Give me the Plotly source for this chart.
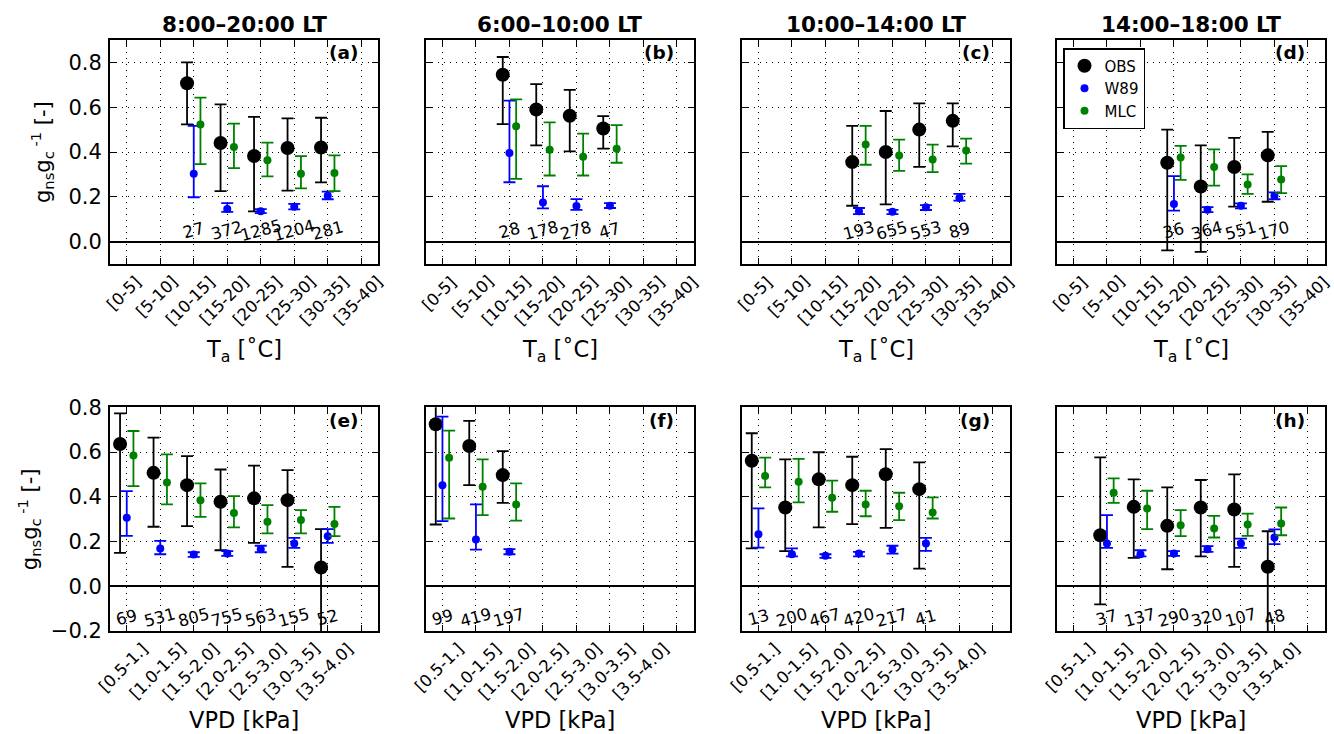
import plotly.graph_objects as go

# ---------------- data ----------------
TA_BINS = ["[0-5]", "[5-10]", "[10-15]", "[15-20]", "[20-25]", "[25-30]", "[30-35]", "[35-40]"]
VPD_BINS = ["[0.5-1.]", "[1.0-1.5]", "[1.5-2.0]", "[2.0-2.5]", "[2.5-3.0]", "[3.0-3.5]", "[3.5-4.0]"]
TITLES = ["8:00\u201320:00 LT", "6:00\u201310:00 LT", "10:00\u201314:00 LT", "14:00\u201318:00 LT"]
SERIES = ["OBS", "W89", "MLC"]

# each entry: (value, lower, upper)
A_START = 2
A_OBS = [(0.707, 0.523, 0.800), (0.440, 0.225, 0.613), (0.382, 0.135, 0.557), (0.418, 0.228, 0.550), (0.420, 0.264, 0.553)]
A_W89 = [(0.303, 0.198, 0.517), (0.145, 0.133, 0.172), (0.135, 0.127, 0.145), (0.156, 0.144, 0.168), (0.205, 0.189, 0.223)]
A_MLC = [(0.523, 0.346, 0.643), (0.422, 0.328, 0.527), (0.363, 0.291, 0.442), (0.303, 0.238, 0.382), (0.306, 0.225, 0.385)]
A_N = [27, 372, 1285, 1204, 281]

B_START = 2
B_OBS = [(0.745, 0.524, 0.824), (0.590, 0.430, 0.703), (0.562, 0.403, 0.677), (0.505, 0.415, 0.560)]
B_W89 = [(0.395, 0.265, 0.629), (0.175, 0.148, 0.247), (0.159, 0.142, 0.190), (0.160, 0.150, 0.172)]
B_MLC = [(0.515, 0.280, 0.635), (0.410, 0.295, 0.532), (0.379, 0.295, 0.482), (0.415, 0.352, 0.520)]
B_N = [28, 178, 278, 47]

C_START = 3
C_OBS = [(0.355, 0.160, 0.517), (0.400, 0.166, 0.583), (0.500, 0.334, 0.617), (0.539, 0.425, 0.617)]
C_W89 = [(0.135, 0.123, 0.150), (0.133, 0.123, 0.142), (0.153, 0.141, 0.163), (0.195, 0.183, 0.213)]
C_MLC = [(0.433, 0.343, 0.517), (0.384, 0.316, 0.455), (0.366, 0.310, 0.433), (0.407, 0.348, 0.460)]
C_N = [193, 655, 553, 89]

D_START = 3
D_OBS = [(0.352, -0.039, 0.500), (0.246, -0.046, 0.430), (0.333, 0.156, 0.463), (0.385, 0.178, 0.490)]
D_W89 = [(0.168, 0.138, 0.292), (0.142, 0.132, 0.154), (0.160, 0.148, 0.171), (0.205, 0.189, 0.220)]
D_MLC = [(0.375, 0.276, 0.427), (0.333, 0.250, 0.412), (0.255, 0.213, 0.300), (0.277, 0.216, 0.337)]
D_N = [36, 364, 551, 170]

E_START = 0
E_OBS = [(0.636, 0.149, 0.773), (0.507, 0.266, 0.664), (0.452, 0.269, 0.582), (0.378, 0.161, 0.522),
         (0.393, 0.194, 0.539), (0.385, 0.087, 0.519), (0.084, -0.250, 0.255)]
E_W89 = [(0.306, 0.225, 0.425), (0.169, 0.143, 0.203), (0.142, 0.131, 0.152), (0.146, 0.136, 0.157),
         (0.166, 0.152, 0.181), (0.191, 0.172, 0.216), (0.224, 0.194, 0.255)]
E_MLC = [(0.584, 0.448, 0.694), (0.464, 0.366, 0.590), (0.385, 0.310, 0.460), (0.328, 0.263, 0.403),
         (0.288, 0.236, 0.363), (0.296, 0.236, 0.340), (0.278, 0.224, 0.355)]
E_N = [69, 531, 805, 755, 563, 155, 52]

F_START = 0
F_OBS = [(0.724, 0.276, 0.840), (0.627, 0.452, 0.739), (0.497, 0.373, 0.604)]
F_W89 = [(0.452, 0.291, 0.758), (0.209, 0.164, 0.366), (0.154, 0.143, 0.166)]
F_MLC = [(0.575, 0.303, 0.696), (0.445, 0.318, 0.567), (0.366, 0.293, 0.460)]
F_N = [99, 419, 197]

G_START = 0
G_OBS = [(0.561, 0.169, 0.684), (0.352, 0.157, 0.567), (0.478, 0.263, 0.599), (0.452, 0.278, 0.579),
         (0.501, 0.261, 0.613), (0.434, 0.079, 0.554)]
G_W89 = [(0.233, 0.173, 0.348), (0.143, 0.134, 0.169), (0.136, 0.127, 0.143), (0.146, 0.134, 0.154),
         (0.164, 0.146, 0.181), (0.191, 0.158, 0.216)]
G_MLC = [(0.493, 0.442, 0.575), (0.467, 0.375, 0.569), (0.396, 0.333, 0.472), (0.366, 0.313, 0.427),
         (0.358, 0.296, 0.418), (0.330, 0.303, 0.397)]
G_N = [13, 200, 467, 420, 217, 41]

H_START = 1
H_OBS = [(0.228, -0.081, 0.576), (0.355, 0.127, 0.478), (0.270, 0.076, 0.442), (0.352, 0.134, 0.475),
         (0.343, 0.087, 0.500), (0.087, -0.250, 0.246)]
H_W89 = [(0.191, 0.172, 0.318), (0.143, 0.134, 0.161), (0.146, 0.136, 0.157), (0.166, 0.154, 0.179),
         (0.191, 0.172, 0.213), (0.218, 0.188, 0.254)]
H_MLC = [(0.418, 0.373, 0.482), (0.348, 0.255, 0.427), (0.273, 0.224, 0.340), (0.258, 0.218, 0.315),
         (0.276, 0.225, 0.325), (0.281, 0.228, 0.352)]
H_N = [37, 137, 290, 320, 107, 48]

PANELS = [
    ("a", A_START, A_OBS, A_W89, A_MLC, A_N),
    ("b", B_START, B_OBS, B_W89, B_MLC, B_N),
    ("c", C_START, C_OBS, C_W89, C_MLC, C_N),
    ("d", D_START, D_OBS, D_W89, D_MLC, D_N),
    ("e", E_START, E_OBS, E_W89, E_MLC, E_N),
    ("f", F_START, F_OBS, F_W89, F_MLC, F_N),
    ("g", G_START, G_OBS, G_W89, G_MLC, G_N),
    ("h", H_START, H_OBS, H_W89, H_MLC, H_N),
]

# ---------------- styling / layout ----------------
W, H = 1334, 734
COL_LEFT = [110, 425.7, 741.7, 1056.7]
PANEL_W = 268
ROW_TOP = [40, 407.3]
PANEL_H = [224, 223.7]
FONT = "DejaVu Sans"
COLORS = {"OBS": "black", "W89": "#0000ff", "MLC": "#008000"}
SIZES = {"OBS": 14, "W89": 8, "MLC": 8}
OFFSETS = {"OBS": -0.2, "W89": 0.0, "MLC": 0.2}

fig = go.Figure()
annotations = []

for k, (letter, start, obs, w89, mlc, counts) in enumerate(PANELS):
    n = k + 1
    row, col = divmod(k, 4)
    xs = "x" if n == 1 else f"x{n}"
    ys = "y" if n == 1 else f"y{n}"
    xa = "xaxis" if n == 1 else f"xaxis{n}"
    ya = "yaxis" if n == 1 else f"yaxis{n}"

    for name, data in zip(SERIES, (obs, w89, mlc)):
        vals = [d[0] for d in data]
        fig.add_trace(go.Scatter(
            x=[start + i + OFFSETS[name] for i in range(len(data))],
            y=vals,
            mode="markers",
            name=name,
            legendgroup=name,
            showlegend=(n == 4),
            marker=dict(color=COLORS[name], size=SIZES[name], line=dict(width=0)),
            error_y=dict(type="data", symmetric=False,
                         array=[d[2] - d[0] for d in data],
                         arrayminus=[d[0] - d[1] for d in data],
                         color=COLORS[name], thickness=1.8, width=6),
            xaxis=xs, yaxis=ys,
        ))

    left = COL_LEFT[col]
    top = ROW_TOP[row]
    ph = PANEL_H[row]
    xdom = [left / W, (left + PANEL_W) / W]
    ydom = [1 - (top + ph) / H, 1 - top / H]

    if row == 0:
        yrange = [-0.1, 0.9]
        yticks = [0.0, 0.2, 0.4, 0.6, 0.8]
        bins = TA_BINS
    else:
        yrange = [-0.2, 0.8]
        yticks = [-0.2, 0.0, 0.2, 0.4, 0.6, 0.8]
        bins = VPD_BINS
    yticktext = [f"{v:.1f}".replace("-", "\u2212") for v in yticks]

    fig.layout[xa] = dict(
        domain=xdom, anchor=ys, range=[-0.5, 7.5],
        tickmode="array", tickvals=list(range(8)), showticklabels=False,
        ticks="inside", ticklen=6, tickwidth=1, tickcolor="black",
        showline=True, linecolor="black", linewidth=2, mirror="ticks",
        showgrid=True, gridcolor="black", gridwidth=1, griddash="1px,5px",
        zeroline=False, fixedrange=True,
    )
    fig.layout[ya] = dict(
        domain=ydom, anchor=xs, range=yrange,
        tickmode="array", tickvals=yticks, ticktext=yticktext,
        showticklabels=(col == 0), tickfont=dict(size=21, color="black", family=FONT),
        ticklabelstandoff=2,
        ticks="inside", ticklen=6, tickwidth=1, tickcolor="black",
        showline=True, linecolor="black", linewidth=2, mirror="ticks",
        showgrid=True, gridcolor="black", gridwidth=1, griddash="1px,5px",
        zeroline=True, zerolinecolor="black", zerolinewidth=2, fixedrange=True,
    )

    dx = f"{xs} domain"
    dy = f"{ys} domain"

    # rotated category tick labels, centred on ticks (matplotlib style)
    for i, lab in enumerate(bins):
        annotations.append(dict(
            text=lab, x=i, xref=xs, y=0, yref=dy, yshift=-7, xshift=-3,
            xanchor="center", yanchor="top", textangle=-45, showarrow=False, borderpad=0,
            font=dict(size=16.5, family=FONT, color="black"),
        ))

    # x-axis titles
    if row == 0:
        annotations.append(dict(text="T<sub>a</sub> [\u02daC]", x=0.5, xref=dx, y=0, yref=dy,
                                yshift=-87, yanchor="middle", xanchor="center", showarrow=False,
                                font=dict(size=22.5, family=FONT, color="black")))
    else:
        annotations.append(dict(text="VPD [kPa]", x=0.5, xref=dx, y=0, yref=dy,
                                yshift=-89, yanchor="middle", xanchor="center", showarrow=False,
                                font=dict(size=22.5, family=FONT, color="black")))

    # y-axis titles
    if col == 0:
        annotations.append(dict(text="g<sub>ns</sub>g<sub>c</sub><sup> -1</sup> [-]",
                                x=0, xref=dx, xshift=(-68 if row == 0 else -81),
                                y=0.5, yref=dy, textangle=-90, xanchor="center", yanchor="middle",
                                showarrow=False, font=dict(size=21, family=FONT, color="black")))

    # column titles
    if row == 0:
        annotations.append(dict(text=f"<b>{TITLES[col]}</b>", x=0.5, xref=dx, y=1, yref=dy,
                                yshift=16, yanchor="middle", xanchor="center", showarrow=False,
                                font=dict(size=21.5, family=FONT, color="black")))

    # panel letters
    annotations.append(dict(text=f"<b>({letter})</b>", x=0.933, xref=dx, y=0.942, yref=dy,
                            xanchor="right", yanchor="middle", showarrow=False,
                            font=dict(size=18.5, family=FONT, color="black")))

    # sample counts
    ycount = 0.05 if row == 0 else -0.14
    for i, c in enumerate(counts):
        annotations.append(dict(text=str(c), x=start + i, xref=xs, y=ycount, yref=ys,
                                xanchor="center", yanchor="middle", textangle=-15, showarrow=False,
                                font=dict(size=16.5, family=FONT, color="black")))

fig.update_layout(
    width=W, height=H,
    margin=dict(l=0, r=0, t=0, b=0),
    template="none",
    paper_bgcolor="white", plot_bgcolor="white",
    font=dict(family=FONT, color="black"),
    annotations=annotations,
    showlegend=True,
    legend=dict(x=1063 / W, y=1 - 48 / H, xanchor="left", yanchor="top",
                bordercolor="black", borderwidth=1.5, bgcolor="white",
                font=dict(size=15, family=FONT, color="black"), tracegroupgap=0),
)

fig.write_html("out.html")
